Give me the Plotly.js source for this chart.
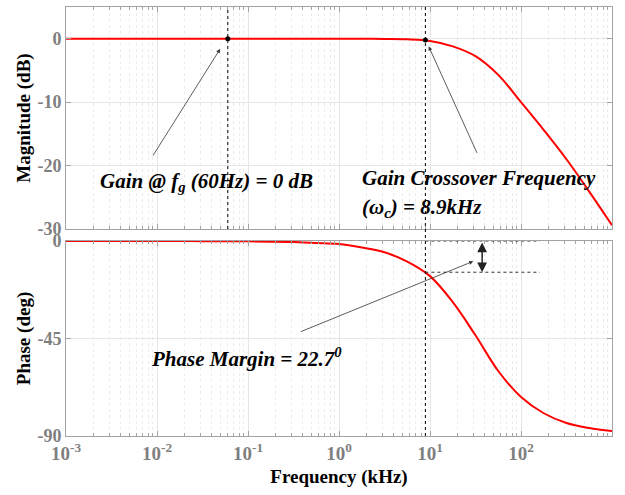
<!DOCTYPE html>
<html>
<head>
<meta charset="utf-8">
<script src="https://cdn.plot.ly/plotly-3.0.1.min.js"></script>
<style>html,body{margin:0;padding:0;background:#fff;}#chart{width:625px;height:495px;}</style>
</head>
<body>
<div id="chart"></div>
<script>
// ---- data (frequency in kHz) ----
const freqKHz = [0.001, 0.00178, 0.00316, 0.00562, 0.01, 0.0178, 0.0316, 0.0562, 0.1, 0.178, 0.316, 0.562,
                 1, 1.78, 3.16, 5.62, 10, 17.8, 31.6, 56.2, 100, 178, 316, 562, 1000];
const magDb    = [0, 0, 0, 0, 0, 0, 0, 0, 0, 0, 0, 0,
                  0, -0.01, -0.04, -0.1, -0.35, -1.2, -2.75, -5.7, -10.0, -14.4, -19.0, -24.1, -29.4];
const phaseDeg = [0, 0, -0.01, -0.01, -0.02, -0.03, -0.05, -0.1, -0.15, -0.3, -0.5, -0.9,
                  -1.4, -3.0, -5.2, -9.5, -16.2, -28.2, -43.5, -60.0, -72.0, -79.5, -84.0, -86.3, -87.7];

const gainPointKHz = 0.06, gainPointDb = 0;
const crossoverKHz = 8.9, crossoverDb = -0.2, crossoverPhaseDeg = -14.4;
const marginLineEndKHz = 161, marginArrowKHz = 37.4;

const xTickVals = [0.001, 0.01, 0.1, 1, 10, 100, 1000];
const xTickText = ['10<sup>-3</sup>', '10<sup>-2</sup>', '10<sup>-1</sup>', '10<sup>0</sup>', '10<sup>1</sup>', '10<sup>2</sup>', '10<sup>3</sup>'];
const magTickVals = [0, -10, -20, -30];
const magTickText = ['0', '-10', '-20', '-30'];
const phaseTickVals = [0, -45, -90];
const phaseTickText = ['0', '-45', '-90'];

// ---- styling ----
const serif = 'Liberation Serif';
const axisGray = '#a3a3a3';
const gridGray = '#e6e6e6';
const minorGrid = '#ebebeb';

const minorVals = [];
for (let d = -3; d < 3; d++) for (let m = 2; m <= 9; m++) minorVals.push(m * Math.pow(10, d));

const baseX = {
  type: 'log', range: [-3, 3], tickmode: 'array', tickvals: xTickVals, ticktext: xTickText,
  showline: true, linecolor: axisGray, linewidth: 1, mirror: 'ticks',
  ticks: 'inside', ticklen: 5, tickcolor: axisGray,
  showgrid: true, gridcolor: gridGray, gridwidth: 1, zeroline: false,
  minor: {tickmode: 'array', tickvals: minorVals, ticks: 'inside', ticklen: 3, tickcolor: axisGray,
          showgrid: true, gridcolor: minorGrid, griddash: 'dot', gridwidth: 1},
  tickfont: {family: serif, size: 19, color: '#7f7f7f', weight: 'bold'}
};
const baseY = {
  showline: true, linecolor: axisGray, linewidth: 1, mirror: 'ticks',
  ticks: 'inside', ticklen: 5, tickcolor: axisGray,
  showgrid: true, gridcolor: gridGray, zeroline: false,
  tickfont: {family: serif, size: 18, color: '#7f7f7f', weight: 'bold'},
  tickmode: 'array'
};

const traces = [
  {x: freqKHz, y: magDb, xaxis: 'x', yaxis: 'y', mode: 'lines',
   line: {color: '#ff0000', width: 2, shape: 'spline', smoothing: 1}, hoverinfo: 'skip'},
  {x: [gainPointKHz, crossoverKHz], y: [gainPointDb, crossoverDb], xaxis: 'x', yaxis: 'y', mode: 'markers',
   marker: {color: '#000', size: 5}, hoverinfo: 'skip'},
  {x: freqKHz, y: phaseDeg, xaxis: 'x2', yaxis: 'y2', mode: 'lines',
   line: {color: '#ff0000', width: 2, shape: 'spline', smoothing: 1}, hoverinfo: 'skip'}
];

const annFont = {family: serif, size: 21, color: '#000', weight: 'bold', style: 'italic'};
const lx = Math.log10;
const titleFont = {family: serif, size: 19, color: '#000', weight: 'bold'};

const layout = {
  width: 625, height: 495,
  margin: {l: 66, r: 13, t: 7, b: 59},
  paper_bgcolor: '#fff', plot_bgcolor: '#fff',
  font: {family: serif},
  showlegend: false,
  xaxis: Object.assign({}, baseX, {anchor: 'y', showticklabels: false, domain: [0, 1]}),
  yaxis: Object.assign({}, baseY, {anchor: 'x', domain: [0.4825, 1], range: [-30, 5],
    tickvals: magTickVals, ticktext: magTickText,
    title: {text: 'Magnitude (dB)', font: titleFont, standoff: 1}}),
  xaxis2: Object.assign({}, baseX, {anchor: 'y2', matches: 'x', domain: [0, 1],
    title: {text: 'Frequency (kHz)', font: titleFont, standoff: 6}}),
  yaxis2: Object.assign({}, baseY, {anchor: 'x2', domain: [0, 0.4545], range: [-90, 0],
    tickvals: phaseTickVals, ticktext: phaseTickText,
    title: {text: 'Phase (deg)', font: titleFont, standoff: 1}}),
  shapes: [
    {type: 'line', xref: 'x', yref: 'y domain', x0: gainPointKHz, x1: gainPointKHz, y0: 0, y1: 1,
     line: {color: '#000', width: 1, dash: 'dot'}},
    {type: 'line', xref: 'x', yref: 'paper', x0: crossoverKHz, x1: crossoverKHz, y0: 0, y1: 1,
     line: {color: '#000', width: 1, dash: 'dot'}},
    {type: 'line', xref: 'x2', yref: 'y2', x0: crossoverKHz, x1: marginLineEndKHz, y0: 0, y1: 0,
     line: {color: '#333', width: 1, dash: 'dot'}},
    {type: 'line', xref: 'x2', yref: 'y2', x0: crossoverKHz, x1: marginLineEndKHz, y0: crossoverPhaseDeg, y1: crossoverPhaseDeg,
     line: {color: '#333', width: 1, dash: 'dot'}}
  ],
  annotations: [
    {xref: 'paper', yref: 'paper', x: 0.0586, y: 0.592, xanchor: 'left', yanchor: 'middle', showarrow: false,
     text: 'Gain @ f<sub>g</sub> (60Hz) = 0 dB', font: annFont},
    {xref: 'paper', yref: 'paper', x: 0.5388, y: 0.601, xanchor: 'left', yanchor: 'middle', showarrow: false,
     text: 'Gain Crossover Frequency', font: annFont},
    {xref: 'paper', yref: 'paper', x: 0.5388, y: 0.531, xanchor: 'left', yanchor: 'middle', showarrow: false,
     text: '(ω<sub>c</sub>) = 8.9kHz', font: annFont},
    {xref: 'paper', yref: 'paper', x: 0.152, y: 0.182, xanchor: 'left', yanchor: 'middle', showarrow: false,
     text: 'Phase Margin = 22.7<sup>0</sup>', font: annFont},
    {xref: 'paper', yref: 'paper', x: 0.2822, y: 0.902, text: '', showarrow: true, ax: -68, ay: 108,
     arrowhead: 2, arrowsize: 1, arrowwidth: 0.8, arrowcolor: '#333'},
    {xref: 'paper', yref: 'paper', x: 0.6643, y: 0.908, text: '', showarrow: true, ax: 49, ay: 108,
     arrowhead: 2, arrowsize: 1, arrowwidth: 0.8, arrowcolor: '#333'},
    {xref: 'paper', yref: 'paper', x: 0.7458, y: 0.4072, text: '', showarrow: true, ax: -174, ay: 71,
     arrowhead: 2, arrowsize: 1, arrowwidth: 0.8, arrowcolor: '#333'},
    {xref: 'x2', yref: 'y2', axref: 'x2', ayref: 'y2', x: lx(marginArrowKHz), y: crossoverPhaseDeg,
     ax: lx(marginArrowKHz), ay: 0, text: '', showarrow: true, arrowside: 'end+start',
     arrowhead: 2, arrowsize: 1.3, arrowwidth: 1.5, arrowcolor: '#222'}
  ]
};

Plotly.newPlot('chart', traces, layout, {staticPlot: true, displayModeBar: false});
</script>
</body>
</html>
